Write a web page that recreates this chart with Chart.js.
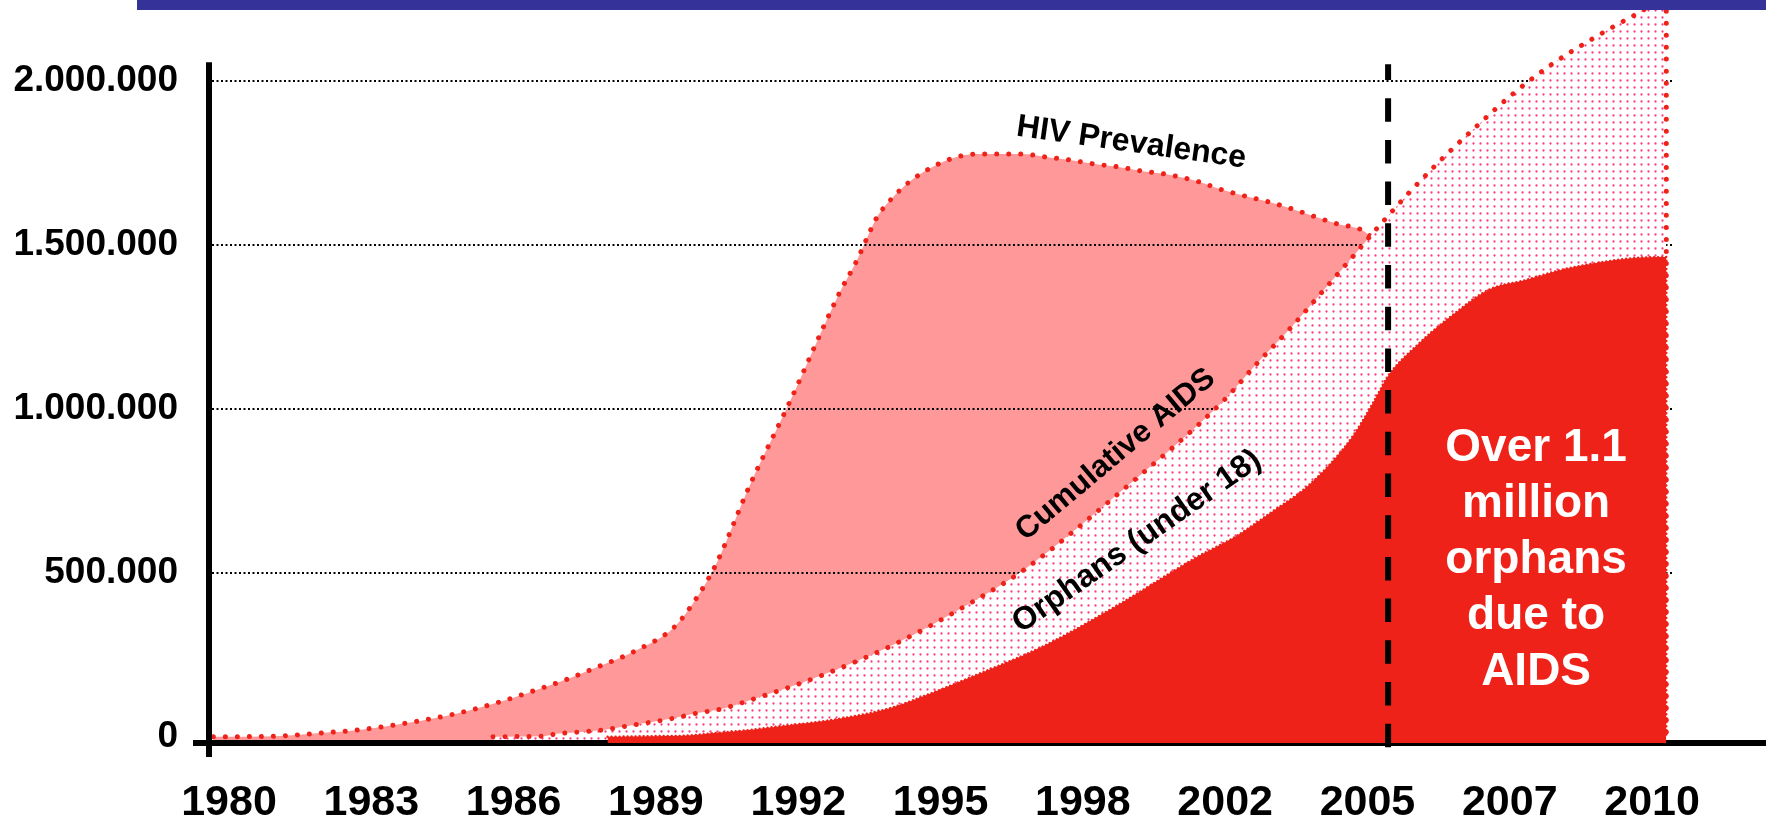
<!DOCTYPE html>
<html><head><meta charset="utf-8">
<script src="https://cdn.jsdelivr.net/npm/chart.js@4.4.1/dist/chart.umd.min.js"></script>
<style>
html,body{margin:0;padding:0;background:#fff;overflow:hidden}
#wrap{position:relative;width:1766px;height:820px}
#bar{position:absolute;left:137px;top:0;width:1629px;height:10px;background:#353399;z-index:2}
canvas{position:absolute;left:0;top:0}
</style></head><body>
<div id="wrap"><canvas id="c" width="1766" height="820"></canvas><div id="bar"></div></div>
<script>
// Category labels (equally spaced on the axis, index positions 0..10)
const xLabels = ['1980','1983','1986','1989','1992','1995','1998','2002','2005','2007','2010'];
const yTicks = [0, 500000, 1000000, 1500000, 2000000];

// HIV Prevalence (x = position in label index units)
const hivX = [-0.11,0.33,0.66,0.91,1.25,1.58,1.90,2.16,2.38,2.54,2.87,3.13,3.29,3.42,3.66,3.93,4.29,4.41,4.48,4.55,4.66,4.78,4.92,5.07,5.24,5.40,5.57,5.74,5.91,6.08,6.25,6.42,6.58,6.82,6.98,7.14,7.31,7.47,7.64,7.79,7.96,8.02];
const hivY = [0,2000,12000,21000,42000,69000,106000,143000,176000,204000,265000,335000,426000,524000,767000,1011000,1353000,1450000,1517000,1581000,1642000,1691000,1731000,1761000,1776000,1776000,1776000,1767000,1758000,1746000,1737000,1724000,1715000,1691000,1667000,1648000,1630000,1609000,1584000,1563000,1545000,1526000];

// Cumulative AIDS
const cumX = [1.855,2.04,2.21,2.30,2.47,2.63,2.80,2.97,3.13,3.30,3.46,3.65,4.17,4.69,5.22,5.59,6.26,6.99,7.22,7.46,7.68,7.90,8.07,8.29,8.53,8.77,9.02,9.30,9.58,9.88,10.10,10.10];
const cumY = [0,1000,2000,9000,15000,21000,33000,45000,57000,73000,85000,110000,188000,285000,410000,510000,745000,1025000,1136000,1246000,1355000,1465000,1551000,1657000,1764000,1862000,1959000,2051000,2127000,2200000,2246000,0];

// Orphans (under 18)
const orphX = [2.66,2.82,2.96,3.19,3.43,3.66,3.89,4.13,4.36,4.65,4.93,5.22,5.74,6.26,6.79,7.08,7.33,7.58,7.84,7.96,8.07,8.14,8.35,8.60,8.85,9.11,9.36,9.61,9.87,10.10,10.10];
const orphY = [0,1000,2000,3000,12000,21000,33000,45000,60000,88000,132000,183000,280000,405000,545000,612000,686000,764000,883000,959000,1042000,1097000,1194000,1286000,1362000,1392000,1423000,1444000,1459000,1462000,0];

// 2005 marker line
const markX = [8.145, 8.145];
const markY = [2050000, -45000];
const yAxisTop = 2056000;

const pairs = (xs, ys) => xs.map((x, i) => ({x: x, y: ys[i]}));
const RED = '#ee2219';
const FONT = "'Liberation Sans', Arial, Helvetica, sans-serif";

// dotted white fill for cumulative AIDS
const pc = document.createElement('canvas');
pc.width = 7; pc.height = 7;
const pctx = pc.getContext('2d');
pctx.fillStyle = '#ffffff'; pctx.fillRect(0, 0, 7, 7);
pctx.fillStyle = '#ff3d80';
pctx.beginPath(); pctx.arc(3.5, 3.5, 1.15, 0, Math.PI * 2); pctx.fill();
const dotPattern = document.getElementById('c').getContext('2d').createPattern(pc, 'repeat');

const notes = [
  {lines: ['HIV Prevalence'], x: 6.34, y: 1810000, angle: 8, font: 'bold 32px ' + FONT, color: '#000', lh: 0},
  {lines: ['Cumulative AIDS'], x: 6.23, y: 860000, angle: -40, font: 'bold 31px ' + FONT, color: '#000', lh: 0},
  {lines: ['Orphans (under 18)'], x: 6.38, y: 595000, angle: -35, font: 'bold 32px ' + FONT, color: '#000', lh: 0},
  {lines: ['Over 1.1', 'million', 'orphans', 'due to', 'AIDS'], x: 9.185, y: 539000, angle: 0, font: 'bold 46px ' + FONT, color: '#fff', lh: 56}
];

const decor = {
  id: 'decor',
  afterDatasetDraw(chart, args) {
    const ctx = chart.ctx, ys = chart.scales.y, a = chart.chartArea;
    if (args.index === 0) {
      ctx.save();
      ctx.strokeStyle = '#000'; ctx.lineWidth = 2; ctx.setLineDash([2, 2.5]);
      yTicks.forEach(v => {
        if (v === 0) return;
        const y = Math.round(ys.getPixelForValue(v));
        ctx.beginPath(); ctx.moveTo(a.left + 3, y); ctx.lineTo(a.right, y); ctx.stroke();
      });
      ctx.restore();
    }
    if (args.index === 1) {
      const yb = ys.getPixelForValue(ys.min);
      ctx.save();
      ctx.strokeStyle = '#000'; ctx.lineWidth = 6; ctx.setLineDash([]);
      ctx.beginPath(); ctx.moveTo(a.left - 16, yb); ctx.lineTo(chart.width, yb); ctx.stroke();
      ctx.beginPath(); ctx.moveTo(a.left, ys.getPixelForValue(yAxisTop)); ctx.lineTo(a.left, yb + 14); ctx.stroke();
      ctx.restore();
    }
  },
  afterDatasetsDraw(chart) {
    const ctx = chart.ctx, xs = chart.scales.x, ys = chart.scales.y;
    notes.forEach(n => {
      const px = xs.getPixelForValue(n.x), py = ys.getPixelForValue(n.y);
      ctx.save();
      ctx.translate(px, py);
      ctx.rotate(n.angle * Math.PI / 180);
      ctx.font = n.font; ctx.fillStyle = n.color;
      ctx.textAlign = 'center'; ctx.textBaseline = 'middle';
      n.lines.forEach((t, i) => ctx.fillText(t, 0, (i - (n.lines.length - 1) / 2) * n.lh));
      ctx.restore();
    });
  }
};

const dotted = {borderColor: RED, borderWidth: 5, borderDash: [0.01, 12], borderCapStyle: 'round', borderJoinStyle: 'round', pointRadius: 0, cubicInterpolationMode: 'monotone'};

new Chart(document.getElementById('c'), {
  type: 'line',
  data: {
    datasets: [
      Object.assign({label: 'HIV Prevalence', data: pairs(hivX, hivY), backgroundColor: '#ff9999', fill: 'start', order: 3}, dotted),
      Object.assign({label: 'Cumulative AIDS', data: pairs(cumX, cumY), backgroundColor: dotPattern, fill: 'start', order: 2}, dotted),
      {label: 'Orphans (under 18)', data: pairs(orphX, orphY), backgroundColor: RED, borderColor: RED, borderWidth: 2.5, borderDash: [0.01, 4], borderCapStyle: 'round', fill: 'start', pointRadius: 0, cubicInterpolationMode: 'monotone', order: 1},
      {label: '2005', data: pairs(markX, markY), borderColor: '#000', borderWidth: 6, borderDash: [23.5, 18.2], borderDashOffset: 7.7, borderCapStyle: 'butt', fill: false, pointRadius: 0, clip: false, order: 0}
    ]
  },
  options: {
    responsive: false,
    animation: false,
    devicePixelRatio: 1,
    layout: {padding: {top: 10, right: 94, left: 0, bottom: 0}},
    plugins: {legend: {display: false}, tooltip: {enabled: false}},
    scales: {
      x: {
        type: 'linear', min: -0.1405, max: 10.14,
        afterBuildTicks: s => { s.ticks = xLabels.map((l, i) => ({value: i})); },
        afterFit: s => { s.height = 77; s.paddingLeft = 0; s.paddingRight = 0; },
        grid: {display: false, drawTicks: false},
        border: {display: false},
        ticks: {autoSkip: false, maxRotation: 0, padding: 38.5, color: '#000',
          font: {family: FONT, size: 43, weight: 'bold', lineHeight: 1},
          callback: v => xLabels[v]}
      },
      y: {
        type: 'linear', min: -18900, max: 2215200,
        afterBuildTicks: s => { s.ticks = yTicks.map(v => ({value: v})); },
        afterFit: s => { s.width = 209; s.paddingTop = 0; s.paddingBottom = 0; },
        grid: {display: false, drawTicks: false},
        border: {display: false},
        ticks: {padding: 31, color: '#000',
          font: {family: FONT, size: 37, weight: 'bold', lineHeight: 1},
          callback: v => String(v).replace(/\B(?=(\d{3})+(?!\d))/g, '.')}
      }
    }
  },
  plugins: [decor]
});
</script>
</body></html>
